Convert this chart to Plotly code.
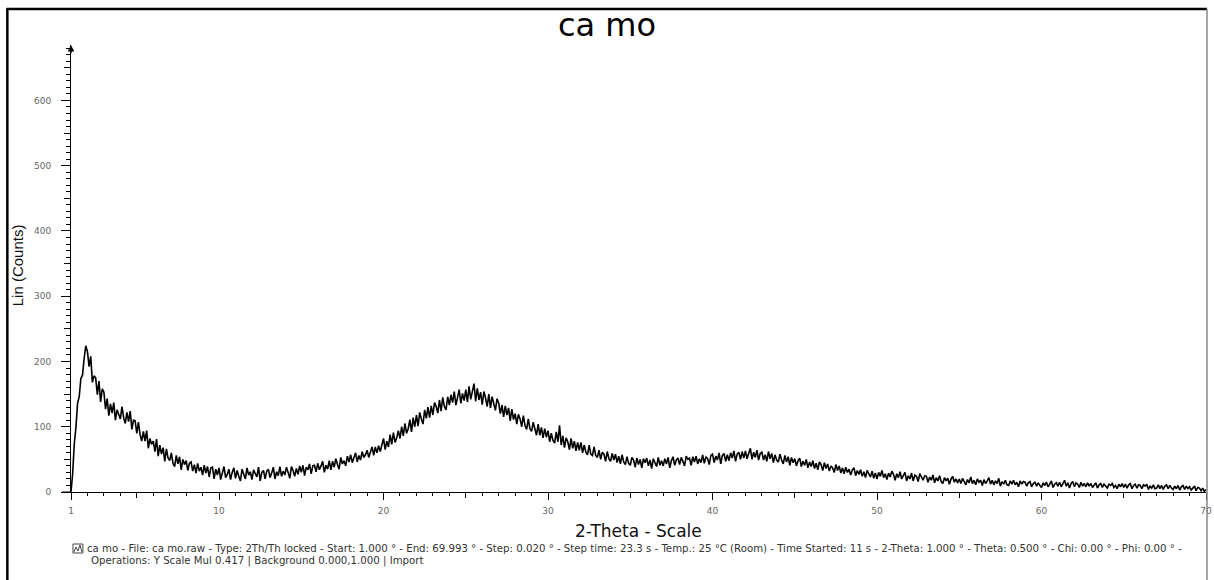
import plotly.graph_objects as go

# ---------------- data ----------------
two_theta_start = 1.0     # degrees
two_theta_step = 0.1      # degrees

counts_01_10 = [
    0, 28, 74, 99, 136, 146, 174, 179, 205, 224,
    215, 192, 208, 168, 178, 175, 149, 170, 138, 158,
    153, 127, 143, 117, 135, 121, 137, 110, 126, 120,
    112, 131, 114, 105, 122, 108, 124, 96, 110, 109,
    90, 107, 88, 78, 93, 78, 94, 67, 82, 73,
    78, 62, 81, 55, 72, 58, 68, 47, 66, 52,
    48, 60, 44, 39, 56, 43, 54, 34, 50, 42,
    48, 33, 44, 46, 32, 42, 29, 44, 32, 38,
    26, 41, 29, 39, 23, 37, 38, 20, 35, 26,
]
counts_10_20 = [
    37, 19, 31, 39, 22, 27, 35, 19, 30, 37,
    21, 33, 24, 17, 35, 28, 20, 37, 26, 31,
    19, 34, 28, 23, 38, 17, 30, 33, 20, 32,
    35, 22, 29, 38, 20, 31, 25, 39, 24, 32,
    26, 38, 30, 21, 39, 33, 24, 36, 27, 40,
    30, 41, 25, 38, 34, 43, 28, 40, 41, 31,
    44, 34, 40, 47, 30, 41, 35, 48, 34, 47,
    38, 51, 42, 35, 53, 43, 48, 40, 55, 46,
    57, 45, 53, 60, 46, 56, 49, 62, 53, 57,
    64, 53, 61, 69, 56, 69, 60, 71, 62, 74,
]
counts_20_30 = [
    82, 65, 78, 69, 88, 73, 91, 76, 83, 94,
    82, 100, 86, 105, 90, 97, 111, 92, 114, 100,
    118, 101, 122, 112, 104, 126, 113, 130, 114, 132,
    118, 137, 131, 121, 141, 124, 145, 131, 126, 146,
    133, 149, 137, 154, 133, 145, 157, 136, 151, 140,
    157, 138, 162, 142, 152, 166, 139, 159, 141, 153,
    134, 154, 144, 131, 150, 129, 146, 133, 125, 143,
    136, 120, 133, 115, 132, 118, 129, 109, 127, 111,
    120, 104, 119, 112, 100, 117, 102, 96, 112, 97,
    93, 107, 98, 87, 104, 87, 99, 83, 97, 84,
]
counts_30_40 = [
    94, 77, 90, 79, 75, 92, 77, 102, 72, 86,
    68, 83, 77, 65, 82, 67, 78, 63, 76, 64,
    76, 60, 72, 61, 57, 72, 58, 56, 69, 56,
    53, 64, 50, 61, 58, 47, 62, 51, 47, 59,
    49, 58, 45, 55, 43, 57, 46, 42, 54, 44,
    41, 53, 49, 38, 52, 42, 50, 37, 51, 45,
    52, 40, 49, 36, 51, 44, 39, 53, 41, 48,
    40, 51, 43, 53, 37, 48, 54, 41, 49, 52,
    42, 53, 45, 40, 55, 50, 52, 41, 54, 46,
    55, 43, 51, 45, 57, 44, 54, 51, 42, 56,
]
counts_40_50 = [
    58, 45, 55, 49, 60, 43, 56, 59, 47, 57,
    48, 60, 52, 63, 47, 58, 61, 50, 62, 52,
    63, 51, 59, 67, 50, 61, 53, 64, 49, 59,
    61, 49, 57, 47, 62, 51, 59, 45, 57, 49,
    46, 58, 49, 43, 56, 46, 54, 41, 53, 45,
    51, 40, 48, 52, 39, 47, 41, 50, 37, 46,
    39, 48, 36, 44, 34, 46, 42, 33, 45, 36,
    43, 32, 40, 37, 30, 42, 33, 40, 29, 37,
    28, 38, 30, 35, 26, 34, 37, 25, 33, 27,
    34, 24, 31, 22, 33, 28, 23, 32, 21, 29,
]
counts_50_60 = [
    20, 30, 24, 33, 22, 28, 19, 29, 23, 32,
    27, 18, 28, 22, 31, 20, 26, 30, 17, 25,
    20, 29, 17, 26, 24, 16, 28, 24, 18, 25,
    24, 15, 23, 18, 26, 14, 22, 17, 25, 16,
    13, 22, 17, 21, 12, 20, 24, 15, 20, 14,
    20, 13, 21, 16, 11, 19, 14, 23, 13, 18,
    11, 20, 15, 18, 10, 19, 13, 17, 22, 12,
    18, 11, 17, 13, 21, 9, 16, 12, 18, 11,
    10, 17, 12, 18, 11, 15, 8, 17, 12, 16,
    15, 9, 14, 16, 8, 13, 15, 9, 14, 10,
]
counts_60_70 = [
    7, 14, 10, 15, 8, 12, 17, 7, 12, 14,
    9, 15, 8, 13, 18, 9, 14, 6, 13, 16,
    8, 14, 12, 7, 15, 9, 13, 8, 14, 9,
    13, 7, 11, 14, 6, 11, 13, 7, 12, 8,
    6, 12, 10, 13, 7, 10, 5, 12, 8, 13,
    7, 12, 6, 11, 13, 5, 10, 12, 6, 11,
    10, 5, 11, 9, 12, 4, 9, 6, 11, 5,
    6, 11, 5, 10, 4, 9, 11, 5, 10, 6,
    4, 9, 5, 10, 3, 8, 10, 4, 9, 5,
    8, 3, 7, 9, 2, 7, 6, 2, 6, 1,
    4,
]

x_tick_values = [1, 10, 20, 30, 40, 50, 60, 70]
x_tick_labels = ["1", "10", "20", "30", "40", "50", "60", "70"]
x_mid_ticks = [5, 15, 25, 35, 45, 55, 65]
y_tick_values = [0, 100, 200, 300, 400, 500, 600]
y_tick_labels = ["0", "100", "200", "300", "400", "500", "600"]
y_mid_ticks = [50, 150, 250, 350, 450, 550, 650]

chart_title = "ca mo"
x_title = "2-Theta - Scale"
y_title = "Lin (Counts)"
footer_line1 = ("ca mo - File: ca mo.raw - Type: 2Th/Th locked - Start: 1.000 \u00b0 - End: 69.993 \u00b0 - "
                "Step: 0.020 \u00b0 - Step time: 23.3 s - Temp.: 25 \u00b0C (Room) - Time Started: 11 s - "
                "2-Theta: 1.000 \u00b0 - Theta: 0.500 \u00b0 - Chi: 0.00 \u00b0 - Phi: 0.00 \u00b0 -")
footer_line2 = "Operations: Y Scale Mul 0.417 | Background 0.000,1.000 | Import"

counts = (counts_01_10 + counts_10_20 + counts_20_30 + counts_30_40 +
          counts_40_50 + counts_50_60 + counts_60_70)
two_theta = [round(two_theta_start + i * two_theta_step, 3) for i in range(len(counts))]

# ---------------- layout geometry ----------------
W, H = 1214, 580
ML, MR, MT, MB = 71, 2, 45, 88
PW, PH = W - ML - MR, H - MT - MB
X_RANGE = [1, 70]
Y_RANGE = [0, 685]


def px_x(px):
    return (px - ML) / PW


def px_y(py):
    return (H - MB - py) / PH


FONT = "Liberation Sans, Arial, sans-serif"
WIDE = "DejaVu Sans, Verdana, sans-serif"
TICK_FONT = dict(family=WIDE, size=9, color="#666666")

fig = go.Figure()
fig.add_trace(go.Scatter(
    x=two_theta, y=counts, mode="lines",
    line=dict(color="black", width=1.6),
    showlegend=False, hoverinfo="skip",
))
# helper trace so the overlay axes (intermediate ticks) are drawn
fig.add_trace(go.Scatter(x=[], y=[], xaxis="x2", yaxis="y2",
                         showlegend=False, hoverinfo="skip"))

fig.update_layout(
    width=W, height=H,
    margin=dict(l=ML, r=MR, t=MT, b=MB, pad=0),
    paper_bgcolor="white", plot_bgcolor="white",
    title=dict(text=chart_title, x=0.5, xref="container", xanchor="center",
               y=1 - 25 / H, yref="container", yanchor="middle",
               font=dict(family=WIDE, size=32, color="black")),
    xaxis=dict(
        range=X_RANGE, tickmode="array", tickvals=x_tick_values, ticktext=x_tick_labels,
        ticks="outside", ticklen=7, tickwidth=1, tickcolor="black",
        showline=True, linecolor="black", linewidth=1,
        showgrid=False, zeroline=False, tickfont=TICK_FONT, ticklabelstandoff=3,
        ticklabeloverflow="allow",
        minor=dict(ticks="outside", ticklen=3, tickwidth=1, tickcolor="black",
                   tick0=0, dtick=1, showgrid=False),
    ),
    yaxis=dict(
        range=Y_RANGE, tickmode="array", tickvals=y_tick_values, ticktext=y_tick_labels,
        ticks="outside", ticklen=9, tickwidth=1, tickcolor="black",
        showline=True, linecolor="black", linewidth=1,
        showgrid=False, zeroline=False, tickfont=TICK_FONT, ticklabelstandoff=8,
        minor=dict(ticks="outside", ticklen=4, tickwidth=1, tickcolor="black",
                   tick0=0, dtick=10, showgrid=False),
    ),
    xaxis2=dict(range=X_RANGE, overlaying="x", anchor="y", side="bottom",
                tickmode="array", tickvals=x_mid_ticks, ticks="outside", ticklen=5,
                tickwidth=1, tickcolor="black", showticklabels=False,
                showline=False, showgrid=False, zeroline=False),
    yaxis2=dict(range=Y_RANGE, overlaying="y", anchor="x", side="left",
                tickmode="array", tickvals=y_mid_ticks, ticks="outside", ticklen=6,
                tickwidth=1, tickcolor="black", showticklabels=False,
                showline=False, showgrid=False, zeroline=False),
    showlegend=False,
)

annotations = [
    dict(text=x_title, xref="paper", yref="paper", x=0.5, y=px_y(531),
         xanchor="center", yanchor="middle", showarrow=False,
         font=dict(family=WIDE, size=17, color="#111111")),
    dict(text=y_title, xref="paper", yref="paper", x=px_x(17), y=px_y(265),
         xanchor="center", yanchor="middle", showarrow=False, textangle=-90,
         font=dict(family=FONT, size=15, color="#111111")),
    dict(text=footer_line1, xref="paper", yref="paper", x=px_x(85), y=px_y(548),
         xanchor="left", yanchor="middle", showarrow=False,
         font=dict(family=WIDE, size=10.2, color="#333333")),
    dict(text=footer_line2, xref="paper", yref="paper", x=px_x(89), y=px_y(561),
         xanchor="left", yanchor="middle", showarrow=False,
         font=dict(family=WIDE, size=10.2, color="#333333")),
    # arrow head on top of the y axis
    dict(text="", x=X_RANGE[0], y=Y_RANGE[1], xref="x", yref="y",
         showarrow=True, ax=0, ay=10, arrowhead=2, arrowsize=1.1,
         arrowwidth=1.2, arrowcolor="black"),
]
fig.update_layout(annotations=annotations)

shapes = [
    # outer frame
    dict(type="line", xref="paper", yref="paper", x0=px_x(7), x1=px_x(7),
         y0=px_y(9), y1=px_y(600), line=dict(color="black", width=2.5)),
    dict(type="line", xref="paper", yref="paper", x0=px_x(6), x1=px_x(1213),
         y0=px_y(9), y1=px_y(9), line=dict(color="black", width=2.5)),
    dict(type="line", xref="paper", yref="paper", x0=px_x(1213), x1=px_x(1213),
         y0=px_y(9), y1=px_y(600), line=dict(color="#888888", width=1.5)),
    # x axis line stub left of the y axis
    dict(type="line", xref="paper", yref="paper", x0=px_x(62), x1=0,
         y0=0, y1=0, line=dict(color="black", width=1)),
    # footer legend icon
    dict(type="rect", xref="paper", yref="paper", x0=px_x(73), x1=px_x(83),
         y0=px_y(553), y1=px_y(544), line=dict(color="#444444", width=1)),
    dict(type="path", xref="paper", yref="paper",
         path=(f"M {px_x(74)},{px_y(552)} L {px_x(76)},{px_y(547)} L {px_x(78)},{px_y(551)} "
               f"L {px_x(80)},{px_y(545)} L {px_x(82)},{px_y(552)}"),
         line=dict(color="#444444", width=1)),
]
fig.update_layout(shapes=shapes)

fig.write_html(
    "out.html",
    config={"displayModeBar": False},
    post_script="document.body.style.margin='0';document.body.style.overflow='hidden';",
)
